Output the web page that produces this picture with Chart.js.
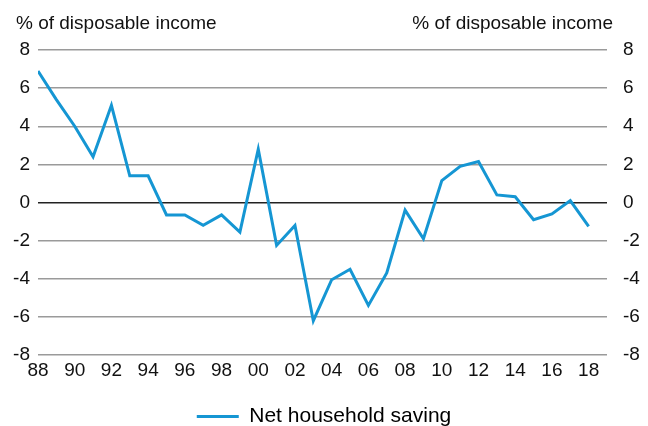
<!DOCTYPE html>
<html>
<head>
<meta charset="utf-8">
<script src="https://cdn.jsdelivr.net/npm/chart.js@4"></script>
<style>
  html, body { margin: 0; padding: 0; background: #fff; }
  #wrap { width: 648px; height: 426px; }
</style>
</head>
<body>
<div id="wrap"><canvas id="myChart" width="648" height="426"></canvas></div>
<script>
// data
let years = [1988, 1989, 1990, 1991, 1992, 1993, 1994, 1995, 1996, 1997, 1998, 1999, 2000,
             2001, 2002, 2003, 2004, 2005, 2006, 2007, 2008, 2009, 2010, 2011, 2012, 2013,
             2014, 2015, 2016, 2017, 2018];
let saving = [6.9, 5.4, 4.0, 2.4, 5.1, 1.4, 1.4, -0.65, -0.65, -1.2, -0.65, -1.55, 2.8,
              -2.25, -1.2, -6.2, -4.05, -3.5, -5.4, -3.7, -0.4, -1.9, 1.15, 1.9, 2.15, 0.4,
              0.3, -0.9, -0.6, 0.1, -1.25];
let yTicks = [-8, -6, -4, -2, 0, 2, 4, 6, 8];
let unitLabel = "% of disposable income";
let seriesName = "Net household saving";

let font = "'Liberation Sans', Arial, sans-serif";
let lineColor = '#1596d3';

// unit labels above both axes
let unitPlugin = {
    id: 'units',
    afterDraw(chart) {
        let ctx = chart.ctx;
        ctx.save();
        ctx.fillStyle = '#111';
        ctx.font = '19px ' + font;
        ctx.textBaseline = 'alphabetic';
        ctx.textAlign = 'left';
        ctx.fillText(unitLabel, 16, 29);
        ctx.textAlign = 'right';
        ctx.fillText(unitLabel, 613, 29);
        ctx.restore();
    }
};

let yGrid = {
    drawTicks: false,
    lineWidth: 1.5,
    color: ctx => ctx.tick && ctx.tick.value === 0 ? '#222' : '#9a9a9a'
};

var ctx = document.getElementById('myChart').getContext('2d');

var chart = new Chart(ctx, {
    type: 'line',
    data: {
        datasets: [{
            label: seriesName,
            data: years.map((y, i) => ({ x: y, y: saving[i] })),
            borderColor: lineColor,
            backgroundColor: lineColor,
            borderWidth: 3,
            pointRadius: 0,
            tension: 0,
            fill: false
        }]
    },
    options: {
        responsive: false,
        animation: false,
        layout: { padding: { top: 50, left: 0, right: 0, bottom: -11 } },
        plugins: {
            tooltip: { enabled: false },
            legend: {
                position: 'bottom',
                labels: {
                    color: '#111',
                    font: { family: font, size: 21 },
                    boxWidth: 42,
                    boxHeight: 3,
                    padding: 0,
                    generateLabels: chart => [{
                        text: seriesName,
                        fillStyle: lineColor,
                        strokeStyle: lineColor,
                        lineWidth: 0,
                        datasetIndex: 0
                    }]
                }
            }
        },
        scales: {
            x: {
                type: 'linear',
                min: 1988,
                max: 2019,
                grid: { display: false, drawTicks: false },
                border: { display: false },
                ticks: {
                    stepSize: 2,
                    includeBounds: false,
                    autoSkip: false,
                    maxRotation: 0,
                    padding: 4,
                    color: '#111',
                    font: { family: font, size: 19 },
                    callback: v => String(v % 100).padStart(2, '0')
                },
                afterFit: s => { s.height = 51; }
            },
            y: {
                position: 'left',
                min: -8,
                max: 8,
                grid: yGrid,
                border: { display: false },
                afterBuildTicks: s => { s.ticks = yTicks.map(v => ({ value: v })); },
                ticks: {
                    padding: 8,
                    color: '#111',
                    font: { family: font, size: 19 }
                },
                afterFit: s => { s.width = 38; }
            },
            y2: {
                position: 'right',
                min: -8,
                max: 8,
                grid: { display: false },
                border: { display: false },
                afterBuildTicks: s => { s.ticks = yTicks.map(v => ({ value: v })); },
                ticks: {
                    padding: 8,
                    color: '#111',
                    font: { family: font, size: 19 }
                },
                afterFit: s => { s.width = 41; }
            }
        }
    },
    plugins: [unitPlugin]
});
</script>
</body>
</html>
